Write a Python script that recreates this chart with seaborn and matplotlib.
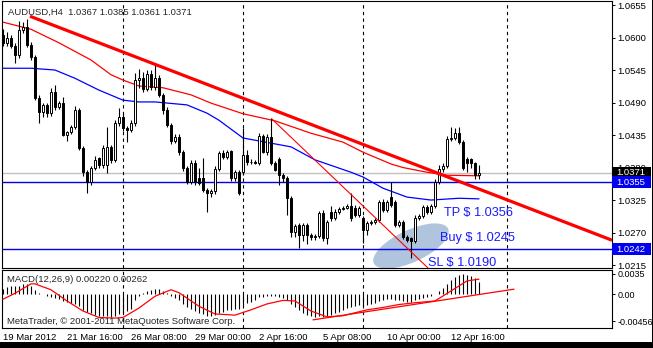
import numpy as np
import pandas as pd
import matplotlib
matplotlib.use("Agg")
import matplotlib.pyplot as plt
import seaborn as sns
from matplotlib.patches import Ellipse, Rectangle
from matplotlib.transforms import IdentityTransform, blended_transform_factory

sns.set_style("white")
plt.rcParams['font.family'] = ['Liberation Sans', 'DejaVu Sans']

# ---------------- data ----------------
opens = [1.0605, 1.0590, 1.0600, 1.0586, 1.0570, 1.0613, 1.0618, 1.0587, 1.0567, 1.0498,
         1.0474, 1.0486, 1.0472, 1.0508, 1.0482, 1.0489, 1.0435, 1.0440, 1.0449, 1.0477,
         1.0413, 1.0373, 1.0356, 1.0379, 1.0396, 1.0384, 1.0384, 1.0415, 1.0393, 1.0455,
         1.0466, 1.0447, 1.0444, 1.0455, 1.0528, 1.0532, 1.0513, 1.0538, 1.0516, 1.0532,
         1.0503, 1.0477, 1.0452, 1.0425, 1.0432, 1.0406, 1.0379, 1.0356, 1.0388, 1.0362,
         1.0362, 1.0342, 1.0337, 1.0340, 1.0378, 1.0405, 1.0398, 1.0408, 1.0362, 1.0372,
         1.0372, 1.0401, 1.0390, 1.0389, 1.0388, 1.0433, 1.0406, 1.0432, 1.0388, 1.0394,
         1.0367, 1.0362, 1.0328, 1.0271, 1.0283, 1.0266, 1.0283, 1.0266, 1.0262, 1.0264,
         1.0303, 1.0261, 1.0305, 1.0295, 1.0305, 1.0310, 1.0312, 1.0315, 1.0312, 1.0300,
         1.0295, 1.0274, 1.0286, 1.0288, 1.0291, 1.0322, 1.0308, 1.0330, 1.0322, 1.0283,
         1.0288, 1.0262, 1.0260, 1.0256, 1.0295, 1.0298, 1.0313, 1.0305, 1.0315, 1.0356,
         1.0378, 1.0383, 1.0428, 1.0430, 1.0438, 1.0423, 1.0395, 1.0394, 1.0388, 1.0367]
highs = [1.0615, 1.0610, 1.0605, 1.0590, 1.0628, 1.0626, 1.0632, 1.0592, 1.0570, 1.0502,
         1.0490, 1.0489, 1.0514, 1.0520, 1.0493, 1.0500, 1.0442, 1.0452, 1.0484, 1.0480,
         1.0416, 1.0376, 1.0383, 1.0400, 1.0398, 1.0418, 1.0449, 1.0418, 1.0460, 1.0480,
         1.0470, 1.0450, 1.0460, 1.0540, 1.0547, 1.0542, 1.0545, 1.0545, 1.0557, 1.0536,
         1.0506, 1.0482, 1.0456, 1.0437, 1.0436, 1.0410, 1.0383, 1.0392, 1.0392, 1.0380,
         1.0396, 1.0345, 1.0344, 1.0382, 1.0408, 1.0410, 1.0410, 1.0410, 1.0376, 1.0375,
         1.0447, 1.0410, 1.0395, 1.0392, 1.0438, 1.0436, 1.0436, 1.0464, 1.0391, 1.0397,
         1.0370, 1.0365, 1.0332, 1.0284, 1.0286, 1.0286, 1.0286, 1.0269, 1.0267, 1.0307,
         1.0308, 1.0292, 1.0315, 1.0310, 1.0313, 1.0315, 1.0318, 1.0337, 1.0316, 1.0315,
         1.0298, 1.0290, 1.0292, 1.0294, 1.0325, 1.0326, 1.0325, 1.0356, 1.0325, 1.0292,
         1.0291, 1.0265, 1.0262, 1.0300, 1.0302, 1.0316, 1.0316, 1.0318, 1.0360, 1.0385,
         1.0388, 1.0433, 1.0449, 1.0447, 1.0448, 1.0426, 1.0398, 1.0396, 1.0390, 1.0385]
lows = [1.0585, 1.0585, 1.0582, 1.0557, 1.0566, 1.0608, 1.0584, 1.0562, 1.0494, 1.0455,
        1.0466, 1.0466, 1.0468, 1.0478, 1.0479, 1.0433, 1.0425, 1.0436, 1.0445, 1.0410,
        1.0366, 1.0337, 1.0350, 1.0376, 1.0380, 1.0380, 1.0371, 1.0388, 1.0390, 1.0450,
        1.0442, 1.0423, 1.0440, 1.0450, 1.0515, 1.0508, 1.0509, 1.0512, 1.0512, 1.0500,
        1.0470, 1.0448, 1.0420, 1.0422, 1.0402, 1.0374, 1.0352, 1.0352, 1.0350, 1.0350,
        1.0338, 1.0305, 1.0330, 1.0336, 1.0374, 1.0394, 1.0394, 1.0358, 1.0358, 1.0334,
        1.0368, 1.0385, 1.0386, 1.0386, 1.0385, 1.0404, 1.0402, 1.0384, 1.0374, 1.0350,
        1.0355, 1.0300, 1.0262, 1.0262, 1.0244, 1.0255, 1.0250, 1.0258, 1.0258, 1.0260,
        1.0255, 1.0250, 1.0290, 1.0292, 1.0302, 1.0308, 1.0309, 1.0290, 1.0296, 1.0297,
        1.0252, 1.0266, 1.0283, 1.0285, 1.0288, 1.0305, 1.0304, 1.0314, 1.0280, 1.0280,
        1.0259, 1.0254, 1.0227, 1.0253, 1.0292, 1.0295, 1.0302, 1.0302, 1.0312, 1.0352,
        1.0372, 1.0380, 1.0425, 1.0427, 1.0420, 1.0375, 1.0372, 1.0380, 1.0360, 1.0361]
closes = [1.0590, 1.0600, 1.0586, 1.0570, 1.0613, 1.0618, 1.0587, 1.0567, 1.0498, 1.0474,
          1.0486, 1.0472, 1.0508, 1.0482, 1.0489, 1.0435, 1.0440, 1.0449, 1.0477, 1.0413,
          1.0373, 1.0356, 1.0379, 1.0393, 1.0384, 1.0413, 1.0415, 1.0393, 1.0455, 1.0466,
          1.0447, 1.0444, 1.0455, 1.0528, 1.0532, 1.0513, 1.0538, 1.0516, 1.0532, 1.0503,
          1.0477, 1.0452, 1.0425, 1.0432, 1.0406, 1.0379, 1.0356, 1.0388, 1.0356, 1.0354,
          1.0342, 1.0337, 1.0340, 1.0378, 1.0405, 1.0398, 1.0406, 1.0362, 1.0372, 1.0337,
          1.0401, 1.0390, 1.0389, 1.0388, 1.0433, 1.0406, 1.0432, 1.0388, 1.0376, 1.0367,
          1.0362, 1.0328, 1.0271, 1.0281, 1.0266, 1.0283, 1.0266, 1.0262, 1.0264, 1.0303,
          1.0261, 1.0288, 1.0295, 1.0305, 1.0310, 1.0312, 1.0315, 1.0295, 1.0300, 1.0312,
          1.0274, 1.0286, 1.0288, 1.0291, 1.0322, 1.0308, 1.0322, 1.0317, 1.0283, 1.0288,
          1.0262, 1.0257, 1.0256, 1.0295, 1.0298, 1.0313, 1.0305, 1.0315, 1.0356, 1.0378,
          1.0383, 1.0428, 1.0430, 1.0438, 1.0423, 1.0379, 1.0388, 1.0387, 1.0367, 1.0371]

ma_red_idx = [0, 7, 14, 22, 27, 30, 34, 40, 47, 52, 60, 68, 77, 85, 90, 97, 100, 106, 111, 119]
ma_red_val = [1.0626, 1.0614, 1.0591, 1.0562, 1.0537, 1.0528, 1.0518, 1.0515, 1.0503, 1.0489,
              1.0471, 1.0459, 1.0438, 1.0423, 1.0406, 1.0386, 1.0380, 1.0372, 1.0367, 1.0366]
ma_blue_idx = [0, 7, 13, 18, 24, 30, 34, 38, 46, 51, 54, 60, 72, 78, 87, 90, 95, 101, 107, 114, 119]
ma_blue_val = [1.0548, 1.0548, 1.0545, 1.0531, 1.0511, 1.0494, 1.0491, 1.0491, 1.0486, 1.0472,
               1.0460, 1.0430, 1.0415, 1.0393, 1.0372, 1.0364, 1.0345, 1.0330, 1.0325, 1.0328, 1.0327]

macd_hist = [0.0010, 0.0012, 0.0014, 0.0014, 0.0015, 0.0017, 0.0017, 0.0015, 0.0008, 0.0002,
             0.0000, -0.0003, -0.0004, -0.0006, -0.0008, -0.0011, -0.0013, -0.0015, -0.0016, -0.0020,
             -0.0026, -0.0030, -0.0032, -0.0034, -0.0036, -0.0037, -0.0037, -0.0038, -0.0036, -0.0033,
             -0.0031, -0.0028, -0.0025, -0.0010, -0.0002, 0.0003, 0.0006, 0.0008, 0.0010, 0.0010,
             0.0006, 0.0002, -0.0003, -0.0006, -0.0010, -0.0016, -0.0022, -0.0024, -0.0028, -0.0031,
             -0.0033, -0.0036, -0.0036, -0.0034, -0.0031, -0.0029, -0.0026, -0.0026, -0.0024, -0.0025,
             -0.0018, -0.0015, -0.0012, -0.0010, -0.0005, -0.0004, -0.0002, -0.0002, -0.0003, -0.0004,
             -0.0006, -0.0010, -0.0016, -0.0022, -0.0027, -0.0031, -0.0034, -0.0037, -0.0039, -0.0037,
             -0.0039, -0.0037, -0.0035, -0.0032, -0.0029, -0.0026, -0.0023, -0.0022, -0.0020, -0.0018,
             -0.0019, -0.0018, -0.0016, -0.0014, -0.0011, -0.0010, -0.0008, -0.0007, -0.0009, -0.0009,
             -0.0011, -0.0012, -0.0013, -0.0010, -0.0008, -0.0006, -0.0005, -0.0003, 0.0001, 0.0006,
             0.0011, 0.0018, 0.0024, 0.0029, 0.0033, 0.0034, 0.0033, 0.0031, 0.0028, 0.0022]
signal_idx = [0, 3, 7, 8, 12, 16, 20, 24, 28, 30, 34, 38, 42, 44, 49, 53, 58, 62, 66, 70,
              73, 77, 81, 85, 91, 95, 99, 103, 108, 112, 116, 119]
signal_val = [-0.0008, 0.0002, 0.0018, 0.0018, 0.0008, -0.0011, -0.0028, -0.0039, -0.0040, -0.0039,
              -0.0023, -0.0003, 0.0008, 0.0003, -0.0020, -0.0033, -0.0035, -0.0026, -0.0016, -0.0010,
              -0.0011, -0.0028, -0.0038, -0.0036, -0.0026, -0.0022, -0.0017, -0.0014, -0.0011, 0.0006,
              0.0023, 0.0026]

time_tick_idx = [0, 16, 32, 48, 64, 80, 96, 112]
time_tick_labels = ['19 Mar 2012', '21 Mar 16:00', '26 Mar 08:00', '29 Mar 00:00',
                    '2 Apr 16:00', '5 Apr 08:00', '10 Apr 00:00', '12 Apr 16:00']
price_ticks = [1.0655, 1.0600, 1.0545, 1.0490, 1.0435, 1.0380, 1.0325, 1.0270, 1.0215]
macd_ticks = [0.0035, 0.0, -0.00456]
macd_tick_labels = ['0.0035', '0.00', '-0.00456']
separator_idx = [30, 60, 90, 126]

trend_main_idx = [6.75, 152.25]
trend_main_val = [1.0636, 1.0257]
trend_thin_idx = [67.25, 106.25]
trend_thin_val = [1.0462, 1.0210]
macd_trend_idx = [77.5, 127.75]
macd_trend_val = [-0.0043, 0.0009]

bid_price = 1.0371
level_tp = 1.0355
level_low = 1.0242

# ---------------- figure ----------------
W, H = 653, 348
fig = plt.figure(figsize=(W / 100, H / 100), dpi=100)
fig.patch.set_facecolor('white')

def fx(px):
    return px / W

def fy(py):
    return 1 - py / H

ax = fig.add_axes([fx(2), fy(268), fx(612) - fx(2), fy(1) - fy(268)])
axm = fig.add_axes([fx(2), fy(328), fx(612) - fx(2), fy(270) - fy(328)])

FS = 6.8
n = len(closes)
idx = np.arange(n)

# light blue highlight blob
blob = Ellipse((411, H - 246), width=82, height=32, angle=25,
               transform=IdentityTransform(), facecolor='#b0c4de', edgecolor='none', zorder=0.5)
ax.add_patch(blob)

# horizontal levels
ax.axhline(bid_price, color='#c0c0c0', lw=1.0, zorder=1)
ax.axhline(level_tp, color='#0000ee', lw=1.0, zorder=1)
ax.axhline(level_low, color='#0000ee', lw=1.0, zorder=1)

for s in separator_idx:
    ax.axvline(s, color='black', lw=0.8, ls=(0, (3, 3)), zorder=1)
    axm.axvline(s, color='black', lw=0.8, ls=(0, (3, 3)), zorder=1)

# moving averages
sns.lineplot(x=ma_red_idx, y=ma_red_val, ax=ax, color='#ff0000', lw=0.9, zorder=2)
sns.lineplot(x=ma_blue_idx, y=ma_blue_val, ax=ax, color='#0000ff', lw=0.9, zorder=2)

# candles
o = np.array(opens); c = np.array(closes); hi = np.array(highs); lo = np.array(lows)
ax.vlines(idx, lo, hi, color='black', lw=0.8, zorder=3)
bull = c >= o
bottoms = np.minimum(o, c)
heights = np.maximum(np.abs(c - o), 0.00003)
ax.bar(idx[bull], heights[bull], bottom=bottoms[bull], width=0.72,
       facecolor='white', edgecolor='black', lw=0.7, zorder=3.5)
ax.bar(idx[~bull], heights[~bull], bottom=bottoms[~bull], width=0.72,
       facecolor='black', edgecolor='black', lw=0.7, zorder=3.5)

# trend lines
ax.plot(trend_main_idx, trend_main_val, color='#ff0000', lw=2.3, zorder=4, solid_capstyle='butt')
ax.plot(trend_thin_idx, trend_thin_val, color='#ff0000', lw=0.8, zorder=4)

# annotations
ann_kw = dict(color='#1a1aff', fontsize=9.2, va='center', ha='left', zorder=5, clip_on=True)
ax.text(110.25, 1.0303, 'TP $ 1.0356', **ann_kw)
ax.text(109.25, 1.0261, 'Buy $ 1.0245', **ann_kw)
ax.text(106.25, 1.0218, 'SL $ 1.0190', **ann_kw)

ax.set_xlim(-0.25, 152.25)
ax.set_ylim(1.0210, 1.06618)
ax.set_xticks([])
ax.yaxis.tick_right()
ax.set_yticks(price_ticks)
ax.set_yticklabels([f"{v:.4f}" for v in price_ticks])
ax.tick_params(axis='y', direction='out', length=2.5, width=0.7, pad=1.2, labelsize=FS, colors='black')
ax.set_xlabel(''); ax.set_ylabel('')

# price boxes on the right scale
bt = blended_transform_factory(fig.transFigure, ax.transData)
box_h = 12 * (1.06618 - 1.0210) / 267
for price, col in [(bid_price, 'black'), (level_tp, '#0000ee'), (level_low, '#0000ee')]:
    r = Rectangle((fx(612), price - box_h / 2), fx(651) - fx(612), box_h,
                  transform=bt, facecolor=col, edgecolor='none', clip_on=False, zorder=10)
    fig.add_artist(r)
    fig.text(fx(616), price, f"{price:.4f}", transform=bt, color='white', fontsize=FS,
             ha='left', va='center', zorder=11)

# MACD panel
axm.vlines(idx, 0, macd_hist, color='black', lw=0.8, zorder=2)
sns.lineplot(x=signal_idx, y=signal_val, ax=axm, color='#ff0000', lw=0.9, zorder=3)
axm.plot(macd_trend_idx, macd_trend_val, color='#ff0000', lw=0.9, zorder=3)
axm.set_xlim(-0.25, 152.25)
axm.set_ylim(-0.00568, 0.00415)
axm.yaxis.tick_right()
axm.set_yticks(macd_ticks)
axm.set_yticklabels(macd_tick_labels)
axm.set_xticks(time_tick_idx)
axm.set_xticklabels(time_tick_labels)
for lbl in axm.get_xticklabels():
    lbl.set_ha('left')
axm.tick_params(axis='both', direction='out', length=2.5, width=0.7, pad=1.2, labelsize=FS, colors='black')
axm.tick_params(axis='y', labelsize=6.5)
axm.set_xlabel(''); axm.set_ylabel('')

for a in (ax, axm):
    for sp in a.spines.values():
        sp.set_visible(True)
        sp.set_color('black')
        sp.set_linewidth(0.8)

# texts
fig.text(fx(8), fy(12), 'AUDUSD,H4  1.0367 1.0385 1.0361 1.0371', fontsize=FS, va='center', ha='left')
fig.text(fx(7), fy(279), 'MACD(12,26,9) 0.00220 0.00262', fontsize=FS, va='center', ha='left')
fig.text(fx(7), fy(322), 'MetaTrader, \u00a9 2001-2011 MetaQuotes Software Corp.', fontsize=FS,
         va='center', ha='left', zorder=5)

# window frame
fig.add_artist(Rectangle((0, 0), 1, 6 / H, transform=fig.transFigure, facecolor='black', edgecolor='none'))
fig.add_artist(Rectangle((651.5 / W, 0), 1.5 / W, 1, transform=fig.transFigure, facecolor='black', edgecolor='none'))

fig.savefig('out.png', dpi=100, facecolor='white')
